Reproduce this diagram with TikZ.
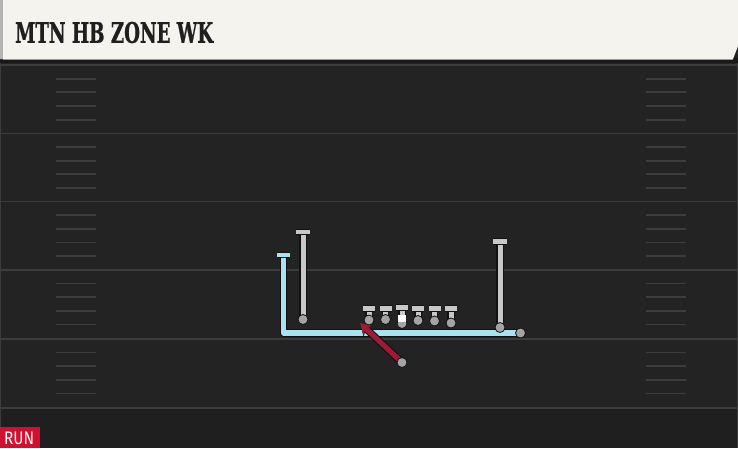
\documentclass[tikz,border=0pt]{standalone}
\usepackage{fontspec}
\usepackage{graphicx}
\setmainfont{DejaVu Serif}
\newfontfamily\titlefont{DejaVu Serif Bold}[FakeBold=1.2]
\newfontfamily\runfont{Fira Sans}
\usetikzlibrary{arrows.meta}
\definecolor{bgdark}{HTML}{232323}
\definecolor{bglow}{HTML}{1F1F1F}
\definecolor{yardline}{HTML}{3C3C3C}
\definecolor{hashcol}{HTML}{3D3D3D}
\definecolor{cream}{HTML}{F5F3EE}
\definecolor{edgegray}{HTML}{B4B4B2}
\definecolor{routeblue}{HTML}{A9E3F2}
\definecolor{routegray}{HTML}{C8C8C8}
\definecolor{dotgray}{HTML}{A4A4A4}
\definecolor{arrowred}{HTML}{A01A35}
\definecolor{runred}{HTML}{D0102E}
\definecolor{outline}{HTML}{111111}
\tikzset{
  yard/.style={draw=yardline, line width=1.6pt},
  hashmark/.style={draw=hashcol, line width=1.8pt},
  bluepath/.style={draw=routeblue, line width=5.2pt, line join=round,
    preaction={draw=outline, line width=7.6pt, line join=round}},
  graypath/.style={draw=routegray, line width=5pt,
    preaction={draw=outline, line width=7.4pt}},
  tbar/.style={line width=4.4pt, preaction={draw=outline, line width=6.6pt}},
  playerdot/.style={circle, fill=dotgray, draw=outline, line width=0.8pt, minimum size=10pt, inner sep=0pt},
  redpath/.style={draw=arrowred, line width=5.2pt, -{Stealth[length=11pt,width=13pt]},
    preaction={draw=outline, line width=7.4pt, -{Stealth[length=12pt,width=15pt]}}},
}
\begin{document}
\begin{tikzpicture}[x=1pt,y=-1pt]
\useasboundingbox (0,0) rectangle (738,448);
% background
\fill[bgdark] (0,0) rectangle (738,448);
\fill[bglow] (0,408) rectangle (738,448);
\draw[draw=yardline, line width=1.2pt] (0.8,60) -- (0.8,448);
\draw[draw=yardline, line width=1.2pt] (737.4,60) -- (737.4,448);
% yard lines
\foreach \yy in {65,133.3,201.6,269.9,338.8,407.8}
  \draw[yard] (0,\yy) -- (738,\yy);
% hash marks
\foreach \base in {65,133.3,201.6,269.9,338.8}
  \foreach \k in {1,2,3,4} {
    \draw[hashmark] (56,\base+13.66*\k) -- (96,\base+13.66*\k);
    \draw[hashmark] (646,\base+13.66*\k) -- (686,\base+13.66*\k);
  }
% header
\fill[black!90] (0,58) rectangle (738,63);
\fill[cream] (0,0) -- (738,0) -- (738,46) -- (733,59) -- (0,59) -- cycle;
\fill[edgegray] (0,0) rectangle (3,59);
\draw[draw=black!40, line width=0.8pt] (3,59) -- (733,59);
\node[anchor=west, inner sep=0pt, text=black!88] (title) at (15,32.5)
  {\resizebox{198pt}{21pt}{\titlefont MTN HB ZONE WK}};
% RUN label
\fill[runred] (0,427) rectangle (40,448);
\node[anchor=west, inner sep=0pt, text=white] (runlabel) at (4,438)
  {\resizebox{30pt}{12.5pt}{\runfont RUN}};
% player positions
\coordinate (blueTop) at (283.5,255);
\coordinate (blueCorner) at (283.5,333);
\coordinate (blueEnd) at (520.5,333);
\coordinate (lwTop) at (303,232.5);
\coordinate (lwDot) at (303,319.5);
\coordinate (rwTop) at (500,242);
\coordinate (rwDot) at (500,327.5);
\coordinate (rbDot) at (402,362.5);
\coordinate (rbTip) at (360,323);
% blue route
\draw[bluepath] (blueTop) -- (blueCorner) -- (blueEnd);
\draw[tbar, draw=routeblue] (277,255) -- (290,255);
\node[playerdot] (bluedot) at (blueEnd) {};
% left gray route
\draw[graypath] (lwDot) -- (lwTop);
\draw[tbar, draw=routegray] (296,232) -- (310,232);
\node[playerdot] (lwplayer) at (lwDot) {};
% right gray route
\draw[graypath] (rwDot) -- (rwTop);
\draw[tbar, draw=routegray] (493,241.5) -- (507,241.5);
\node[playerdot] (rwplayer) at (rwDot) {};
% linemen
\foreach \name/\xx/\dy in {la/369/320, lb/385.5/319.5, lc/418/320.5, ld/434.5/321, le/451/323} {
  \draw[graypath] (\xx,\dy) -- (\xx,308.5);
  \draw[tbar, draw=routegray] (\xx-6,308.5) -- (\xx+6,308.5);
  \node[playerdot] (\name) at (\xx,\dy) {};
}
% center
\draw[graypath] (402,323) -- (402,307.5);
\draw[tbar, draw=routegray] (396,307.5) -- (408,307.5);
\node[playerdot] (center) at (402,323.5) {};
\fill[white] (398,314.5) rectangle (406,322);
% running back
\draw[redpath] (rbDot) -- (rbTip);
\node[playerdot] (rb) at (rbDot) {};
\end{tikzpicture}
\end{document}
